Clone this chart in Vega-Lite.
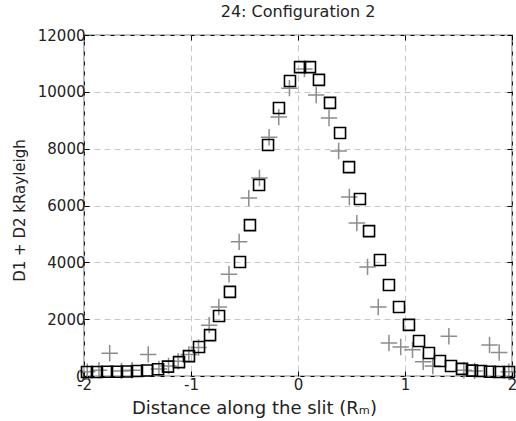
{
  "$schema": "https://vega.github.io/schema/vega-lite/v6.json",
  "autosize": "none",
  "width": 428,
  "height": 341,
  "padding": {"left": 84, "top": 35, "right": 4, "bottom": 45},
  "background": "white",
  "title": {"text": "24: Configuration 2", "fontSize": 16, "font": "DejaVu Sans", "fontWeight": "normal", "color": "#222", "offset": 8, "anchor": "middle"},
  "config": {
    "view": {"stroke": "#000", "strokeWidth": 1.2},
    "axis": {"labelFont": "DejaVu Sans", "labelFontSize": 15, "labelColor": "#222", "titleFont": "DejaVu Sans", "titleFontSize": 16, "titleFontWeight": "normal", "titleColor": "#222", "gridColor": "#c8c8c8", "gridDash": [6, 4], "gridWidth": 1, "domain": false, "tickColor": "#000", "tickSize": -5, "tickWidth": 1}
  },
  "resolve": {"axis": {"x": "independent", "y": "independent"}},
  "datasets": {
    "sq": [
      {"x": -1.972, "y": 140}, {"x": -1.879, "y": 140}, {"x": -1.785, "y": 150}, {"x": -1.692, "y": 150},
      {"x": -1.598, "y": 160}, {"x": -1.505, "y": 175}, {"x": -1.411, "y": 195}, {"x": -1.308, "y": 240},
      {"x": -1.215, "y": 330}, {"x": -1.112, "y": 490}, {"x": -1.019, "y": 700}, {"x": -0.925, "y": 1020},
      {"x": -0.822, "y": 1440}, {"x": -0.738, "y": 2110}, {"x": -0.636, "y": 2960}, {"x": -0.542, "y": 4010},
      {"x": -0.449, "y": 5310}, {"x": -0.364, "y": 6720}, {"x": -0.28, "y": 8130}, {"x": -0.178, "y": 9430},
      {"x": -0.075, "y": 10380}, {"x": 0.019, "y": 10870}, {"x": 0.112, "y": 10870}, {"x": 0.196, "y": 10420},
      {"x": 0.299, "y": 9610}, {"x": 0.393, "y": 8550}, {"x": 0.477, "y": 7350}, {"x": 0.579, "y": 6230},
      {"x": 0.664, "y": 5100}, {"x": 0.766, "y": 4080}, {"x": 0.85, "y": 3200}, {"x": 0.944, "y": 2430},
      {"x": 1.037, "y": 1800}, {"x": 1.131, "y": 1230}, {"x": 1.224, "y": 810}, {"x": 1.327, "y": 530},
      {"x": 1.43, "y": 350}, {"x": 1.533, "y": 250}, {"x": 1.626, "y": 190}, {"x": 1.71, "y": 175},
      {"x": 1.794, "y": 150}, {"x": 1.879, "y": 140}, {"x": 1.972, "y": 140}
    ],
    "pl": [
      {"x": -1.97, "y": 150}, {"x": -1.86, "y": 200}, {"x": -1.76, "y": 800}, {"x": -1.65, "y": 180},
      {"x": -1.55, "y": 200}, {"x": -1.4, "y": 760}, {"x": -1.3, "y": 250}, {"x": -1.21, "y": 350},
      {"x": -1.12, "y": 520}, {"x": -1.02, "y": 760}, {"x": -0.93, "y": 1000}, {"x": -0.83, "y": 1790},
      {"x": -0.74, "y": 2430}, {"x": -0.645, "y": 3580}, {"x": -0.55, "y": 4720}, {"x": -0.46, "y": 6260},
      {"x": -0.36, "y": 6970}, {"x": -0.27, "y": 8400}, {"x": -0.18, "y": 9110}, {"x": -0.08, "y": 10130},
      {"x": 0.06, "y": 10800}, {"x": 0.17, "y": 9890}, {"x": 0.29, "y": 9080}, {"x": 0.38, "y": 7920},
      {"x": 0.48, "y": 6300}, {"x": 0.55, "y": 5380}, {"x": 0.65, "y": 3840}, {"x": 0.75, "y": 2430},
      {"x": 0.85, "y": 1160}, {"x": 0.96, "y": 1020}, {"x": 1.07, "y": 920}, {"x": 1.17, "y": 500},
      {"x": 1.26, "y": 350}, {"x": 1.41, "y": 1400}, {"x": 1.55, "y": 200}, {"x": 1.65, "y": 180},
      {"x": 1.79, "y": 1090}, {"x": 1.88, "y": 830}, {"x": 1.97, "y": 150}
    ]
  },
  "layer": [
    {
      "data": {"name": "pl"},
      "mark": {"type": "point", "shape": "M-1,0H1M0,-1V1", "filled": false, "stroke": "#8c8c8c", "strokeWidth": 1.5, "size": 270, "opacity": 1},
      "encoding": {
        "x": {"field": "x", "type": "quantitative", "scale": {"domain": [-2, 2], "nice": false, "zero": false}, "axis": {"values": [-2, -1, 0, 1, 2], "labelExpr": "datum.value + ''", "title": "Distance along the slit (Rₘ)", "titleFontSize": 18, "titleX": 170, "titleY": 37, "titleAlign": "center", "titleBaseline": "alphabetic", "labelPadding": 6, "labelFlush": false}},
        "y": {"field": "y", "type": "quantitative", "scale": {"domain": [0, 12000], "nice": false}, "axis": {"values": [0, 2000, 4000, 6000, 8000, 10000, 12000], "labelExpr": "datum.value + ''", "title": "D1 + D2 kRayleigh", "titleFontSize": 15, "titleX": -65, "titleY": 175, "titleAlign": "center", "titleBaseline": "middle", "labelPadding": 4, "labelFlush": false}}
      }
    },
    {
      "data": {"name": "sq"},
      "mark": {"type": "point", "shape": "square", "filled": false, "stroke": "#000", "strokeWidth": 1.6, "size": 121, "opacity": 1},
      "encoding": {
        "x": {"field": "x", "type": "quantitative", "axis": {"orient": "top", "values": [-2, -1, 0, 1, 2], "labels": false, "title": null, "grid": false}},
        "y": {"field": "y", "type": "quantitative", "axis": {"orient": "right", "values": [0, 2000, 4000, 6000, 8000, 10000, 12000], "labels": false, "title": null, "grid": false}}
      }
    }
  ]
}
